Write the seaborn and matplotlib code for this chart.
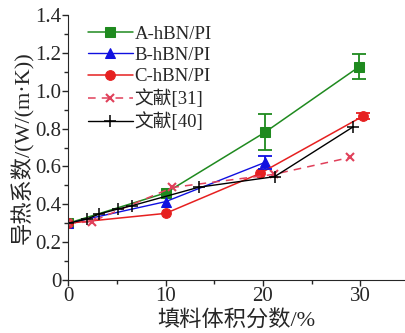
import matplotlib
matplotlib.use("Agg")
import matplotlib.pyplot as plt
import seaborn as sns
import pandas as pd
from matplotlib.ticker import MultipleLocator, FuncFormatter

# data
a_x = [0, 10, 20.2, 29.9]
a_y = [0.30, 0.46, 0.78, 1.127]
a_err = [0, 0, 0.095, 0.065]

b_x = [0, 10, 20.2]
b_y = [0.30, 0.414, 0.621]
b_err = [0, 0, 0.033]

c_x = [0, 10, 19.7, 30.3]
c_y = [0.30, 0.352, 0.563, 0.866]
c_err = [0, 0, 0, 0.015]

r31_x = [0, 2.4, 10.7, 21.1, 29.0]
r31_y = [0.30, 0.308, 0.489, 0.558, 0.648]

r40_x = [0, 1.9, 3.2, 5.1, 6.5, 13.4, 21.2, 29.3]
r40_y = [0.30, 0.322, 0.349, 0.375, 0.392, 0.49, 0.546, 0.81]

labels = ["A-hBN/PI", "B-hBN/PI", "C-hBN/PI", "文献[31]", "文献[40]"]
x_label = "填料体积分数/%"
y_label = "导热系数/(W/(m·K))"

sns.set_style("ticks")
plt.rcParams['font.family'] = ['Liberation Serif', 'Noto Sans CJK SC', 'DejaVu Sans']
plt.rcParams['xtick.direction'] = 'out'
plt.rcParams['ytick.direction'] = 'out'

fig = plt.figure(figsize=(4.05, 3.33), dpi=100)
ax = fig.add_axes([68.3/405, 53/333, (404-68.3)/405, (280-15)/333])

green = "#1f8a1f"
blue = "#1010e0"
red = "#e62020"
pink = "#e0405a"

def df(x, y):
    return pd.DataFrame({"x": x, "y": y})

sns.lineplot(data=df(a_x, a_y), x="x", y="y", ax=ax, color=green, marker="s",
             markersize=7, markeredgecolor=green, lw=1.1, label=labels[0])
sns.lineplot(data=df(b_x, b_y), x="x", y="y", ax=ax, color=blue, marker="^",
             markersize=7, markeredgecolor=blue, lw=1.0, label=labels[1])
sns.lineplot(data=df(c_x, c_y), x="x", y="y", ax=ax, color=red, marker="o",
             markersize=7, markeredgecolor=red, lw=1.1, label=labels[2])
sns.lineplot(data=df(r31_x, r31_y), x="x", y="y", ax=ax, color=pink, marker="x",
             markersize=6, markeredgecolor=pink, markeredgewidth=1.5, lw=1.1,
             linestyle=(0, (5, 4)), label=labels[3])
sns.lineplot(data=df(r40_x, r40_y), x="x", y="y", ax=ax, color="black", marker="+",
             markersize=8, markeredgecolor="black", markeredgewidth=1.1, lw=1.0,
             label=labels[4])

for xs, ys, es, col in [(a_x, a_y, a_err, green), (b_x, b_y, b_err, blue), (c_x, c_y, c_err, red)]:
    pts = [(x, y, e) for x, y, e in zip(xs, ys, es) if e > 0]
    ax.errorbar([p[0] for p in pts], [p[1] for p in pts], yerr=[p[2] for p in pts],
                fmt="none", ecolor=col, elinewidth=1.3, capsize=5, capthick=1.3)

ax.set_xlim(0, 34.5)
ax.set_ylim(0, 1.4)
ax.xaxis.set_major_locator(MultipleLocator(10))
ax.xaxis.set_minor_locator(MultipleLocator(5))
ax.yaxis.set_major_locator(MultipleLocator(0.2))
ax.yaxis.set_minor_locator(MultipleLocator(0.1))
ax.yaxis.set_major_formatter(FuncFormatter(lambda v, p: "0" if abs(v) < 1e-9 else f"{v:.1f}"))
ax.tick_params(axis="both", which="major", labelsize=15, length=4, width=1, pad=1)
ax.tick_params(axis="both", which="minor", length=3, width=1)
sns.despine(ax=ax)

ax.set_xlabel(x_label, fontsize=16, labelpad=3.5)
ax.set_ylabel(y_label, fontsize=16, labelpad=1)

leg = ax.legend(loc="upper left", bbox_to_anchor=(0.058, 0.96), frameon=False,
                fontsize=13.5, handlelength=2.4, handletextpad=0.1, labelspacing=0.22,
                borderpad=0, borderaxespad=0)

fig.savefig("out.png", dpi=100)
